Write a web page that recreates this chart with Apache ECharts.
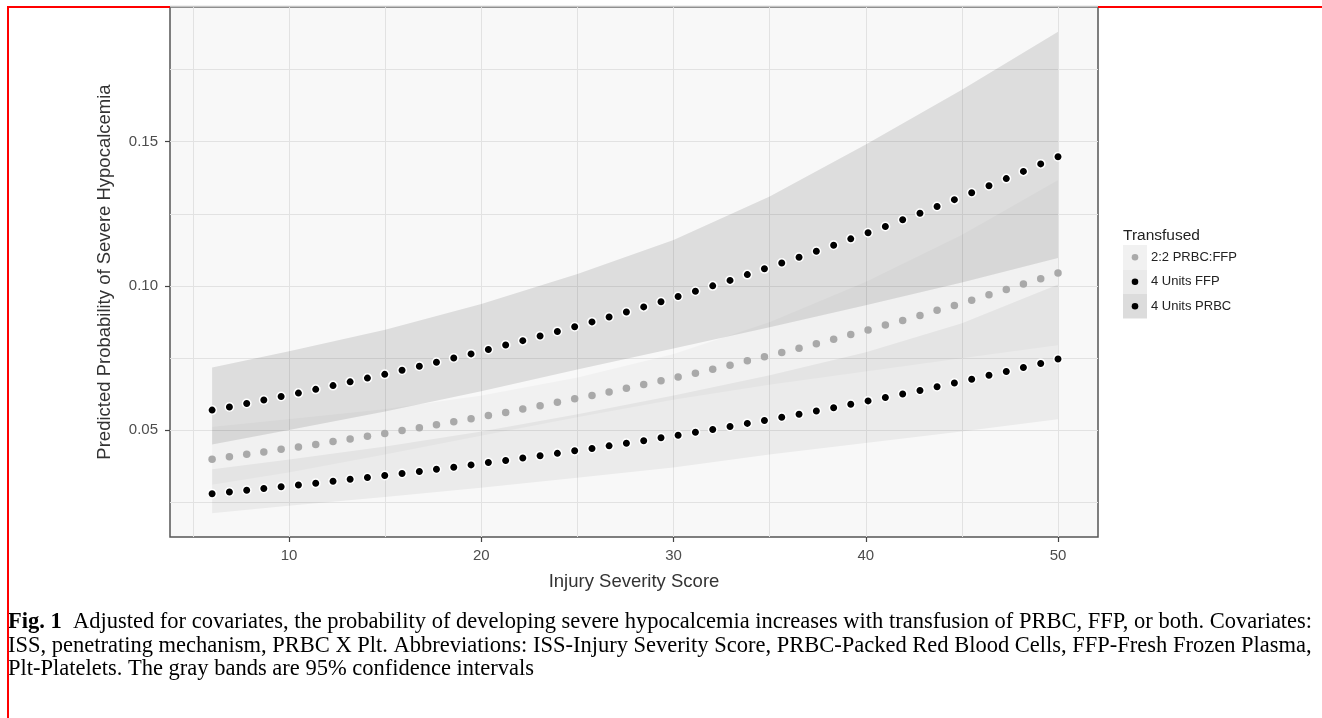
<!DOCTYPE html>
<html><head><meta charset="utf-8">
<script src="https://cdn.jsdelivr.net/npm/echarts@6/dist/echarts.min.js"></script>
<style>html,body{margin:0;padding:0;background:#fff}#c{width:1322px;height:718px}</style>
</head><body><div id="c"></div>
<script>
// Injury Severity Score values of the predicted points
const iss = [6, 6.9, 7.8, 8.69, 9.59, 10.49, 11.39, 12.29, 13.18, 14.08, 14.98, 15.88, 16.78, 17.67, 18.57, 19.47, 20.37, 21.27, 22.16, 23.06, 23.96, 24.86, 25.76, 26.65, 27.55, 28.45, 29.35, 30.24, 31.14, 32.04, 32.94, 33.84, 34.73, 35.63, 36.53, 37.43, 38.33, 39.22, 40.12, 41.02, 41.92, 42.82, 43.71, 44.61, 45.51, 46.41, 47.31, 48.2, 49.1, 50];
// predicted probabilities
const mixProb = [0.0399,0.0407,0.0416,0.0424,0.0433,0.0441,0.0450,0.0460,0.0469,0.0478,0.0488,0.0498,0.0508,0.0518,0.0529,0.0539,0.0550,0.0561,0.0573,0.0584,0.0596,0.0608,0.0620,0.0632,0.0645,0.0658,0.0671,0.0684,0.0697,0.0711,0.0725,0.0740,0.0754,0.0769,0.0784,0.0799,0.0815,0.0831,0.0847,0.0864,0.0880,0.0897,0.0915,0.0932,0.0950,0.0969,0.0987,0.1006,0.1025,0.1045];
const ffpProb = [0.0279,0.0285,0.0291,0.0297,0.0303,0.0309,0.0315,0.0322,0.0329,0.0335,0.0342,0.0349,0.0356,0.0364,0.0371,0.0379,0.0387,0.0394,0.0403,0.0411,0.0419,0.0428,0.0436,0.0445,0.0454,0.0463,0.0473,0.0482,0.0492,0.0502,0.0512,0.0523,0.0533,0.0544,0.0555,0.0566,0.0577,0.0589,0.0601,0.0613,0.0625,0.0637,0.0650,0.0663,0.0676,0.0690,0.0703,0.0717,0.0731,0.0746];
const prbcProb = [0.0569,0.0580,0.0592,0.0604,0.0616,0.0628,0.0641,0.0654,0.0667,0.0680,0.0693,0.0707,0.0721,0.0735,0.0750,0.0764,0.0779,0.0795,0.0810,0.0826,0.0842,0.0858,0.0875,0.0892,0.0909,0.0927,0.0945,0.0963,0.0981,0.1000,0.1019,0.1039,0.1059,0.1079,0.1099,0.1120,0.1141,0.1163,0.1184,0.1206,0.1229,0.1252,0.1275,0.1299,0.1323,0.1347,0.1372,0.1397,0.1423,0.1448];
// 95% confidence bands
const bandIss = [6, 10, 15, 20, 25, 30, 35, 40, 45, 50];
const mixLo  = [0.0310,0.0353,0.0415,0.0480,0.0544,0.0605,0.0657,0.0703,0.0749,0.0794];
const mixHi  = [0.0511,0.0538,0.0573,0.0620,0.0682,0.0764,0.0875,0.1014,0.1177,0.1367];
const ffpLo  = [0.0211,0.0237,0.0268,0.0300,0.0334,0.0370,0.0415,0.0455,0.0495,0.0537];
const ffpHi  = [0.0364,0.0398,0.0443,0.0495,0.0555,0.0620,0.0690,0.0770,0.0870,0.1005];
const prbcLo = [0.0450,0.0500,0.0564,0.0634,0.0710,0.0783,0.0856,0.0933,0.1012,0.1097];
const prbcHi = [0.0717,0.0773,0.0848,0.0937,0.1041,0.1159,0.1310,0.1490,0.1680,0.1881];
// axes
const xTicks = [10, 20, 30, 40, 50];
const yTicks = [0.05, 0.10, 0.15];
const xGridVals = [5, 10, 15, 20, 25, 30, 35, 40, 45, 50];
const yGridVals = [0.025, 0.05, 0.075, 0.10, 0.125, 0.15, 0.175];
const groupNames = ['2:2 PRBC:FFP', '4 Units FFP', '4 Units PRBC'];
const legendTitle = 'Transfused';
const xTitle = 'Injury Severity Score';
const yTitle = 'Predicted Probability of Severe Hypocalcemia';
const captionLines = [
  'Adjusted for covariates, the probability of developing severe hypocalcemia increases with transfusion of PRBC, FFP, or both. Covariates:',
  'ISS, penetrating mechanism, PRBC X Plt. Abbreviations: ISS-Injury Severity Score, PRBC-Packed Red Blood Cells, FFP-Fresh Frozen Plasma,',
  'Plt-Platelets. The gray bands are 95% confidence intervals'
];

const SANS = '"Liberation Sans", Arial, sans-serif';
const SERIF = '"Liberation Serif", "Times New Roman", serif';

function band(lo, hi, fill) {
  const data = bandIss.map((x, i) => [x, lo[i], hi[i]]);
  return {
    type: 'custom', silent: true, z: 1, data,
    encode: { x: 0, y: [1, 2] },
    renderItem(params, api) {
      if (params.dataIndex !== 0) return;
      const pts = [];
      for (let i = 0; i < data.length; i++) pts.push(api.coord([data[i][0], data[i][2]]));
      for (let i = data.length - 1; i >= 0; i--) pts.push(api.coord([data[i][0], data[i][1]]));
      return { type: 'polygon', shape: { points: pts }, style: { fill } };
    }
  };
}
const pts = arr => iss.map((x, i) => [x, arr[i]]);

const chart = echarts.init(document.getElementById('c'), null, { renderer: 'canvas' });
const legendX = 1123, legendY = 245, keyH = 24.5;
const keyFills = ['#f1f1f1', '#eaeaea', '#dcdcdc'];
const dotFills = ['#a9a9a9', '#000', '#000'];
const graphics = [
  { type: 'polyline', shape: { points: [[8, 718], [8, 7], [170, 7]] }, style: { stroke: '#ff0000', lineWidth: 2, fill: null }, z: 10 },
  { type: 'line', shape: { x1: 1098, y1: 7, x2: 1322, y2: 7 }, style: { stroke: '#ff0000', lineWidth: 2 }, z: 10 },
  { type: 'line', shape: { x1: 170, y1: 6.5, x2: 1098, y2: 6.5 }, style: { stroke: '#c4c4c4', lineWidth: 1.5 }, z: 10 },
  { type: 'text', x: legendX, y: 236, style: { text: legendTitle, font: '15.5px ' + SANS, fill: '#222', verticalAlign: 'middle' } }
];
groupNames.forEach((n, i) => {
  const y = legendY + i * keyH;
  graphics.push({ type: 'rect', shape: { x: legendX, y, width: 24, height: keyH }, style: { fill: keyFills[i] } });
  graphics.push({ type: 'circle', shape: { cx: legendX + 12, cy: y + keyH / 2, r: 3.3 }, style: { fill: dotFills[i] } });
  graphics.push({ type: 'text', x: legendX + 28, y: y + keyH / 2, style: { text: n, font: '13px ' + SANS, fill: '#222', verticalAlign: 'middle' } });
});
const capY = [622, 646, 669];
captionLines.forEach((t, i) => {
  graphics.push({
    type: 'text', x: 8, y: capY[i],
    style: {
      text: (i === 0 ? '{b|Fig. 1}  ' : '') + t,
      font: '22.5px ' + SERIF, fill: '#000', verticalAlign: 'middle',
      rich: { b: { font: 'bold 22.5px ' + SERIF, fill: '#000' } }
    }
  });
});

chart.setOption({
  animation: false,
  backgroundColor: '#fff',
  grid: { left: 170, top: 7, right: 224, bottom: 181, show: true, backgroundColor: '#f8f8f8', borderColor: '#555', borderWidth: 1.5 },
  xAxis: {
    type: 'value', min: 3.81, max: 52.08,
    name: xTitle, nameLocation: 'middle', nameGap: 35,
    nameTextStyle: { fontFamily: SANS, fontSize: 18.5, color: '#333' },
    axisLine: { show: false },
    axisTick: { show: true, length: 5, customValues: xTicks, lineStyle: { color: '#444', width: 1.2 } },
    axisLabel: { customValues: xTicks, fontFamily: SANS, fontSize: 15, color: '#4d4d4d', margin: 11 },
    splitLine: { show: false }
  },
  yAxis: {
    type: 'value', min: 0.01289, max: 0.19672,
    name: yTitle, nameLocation: 'middle', nameGap: 56,
    nameTextStyle: { fontFamily: SANS, fontSize: 18.5, color: '#333' },
    axisLine: { show: false },
    axisTick: { show: true, length: 5, customValues: yTicks, lineStyle: { color: '#444', width: 1.2 } },
    axisLabel: { customValues: yTicks, fontFamily: SANS, fontSize: 15, color: '#4d4d4d', margin: 12, formatter: v => v.toFixed(2) },
    splitLine: { show: false }
  },
  graphic: graphics,
  series: [
    band(mixLo, mixHi, 'rgba(0,0,0,0.028)'),
    band(ffpLo, ffpHi, 'rgba(0,0,0,0.05)'),
    band(prbcLo, prbcHi, 'rgba(0,0,0,0.105)'),
    {
      type: 'scatter', name: groupNames[0], data: pts(mixProb), symbolSize: 7.5, z: 3,
      itemStyle: { color: '#a9a9a9', opacity: 1 }, silent: true,
      markLine: {
        silent: true, symbol: 'none', z: 0, animation: false, precision: 4,
        label: { show: false },
        lineStyle: { color: '#e2e2e2', width: 1, type: 'solid' },
        data: xGridVals.map(v => ({ xAxis: v })).concat(yGridVals.map(v => ({ yAxis: v })))
      }
    },
    {
      type: 'scatter', name: groupNames[1], data: pts(ffpProb), symbolSize: 8.5, z: 4, silent: true,
      itemStyle: { color: '#000', borderColor: '#fff', borderWidth: 1.5, opacity: 1 }
    },
    {
      type: 'scatter', name: groupNames[2], data: pts(prbcProb), symbolSize: 8.5, z: 4, silent: true,
      itemStyle: { color: '#000', borderColor: '#fff', borderWidth: 1.5, opacity: 1 }
    }
  ]
});
</script></body></html>
